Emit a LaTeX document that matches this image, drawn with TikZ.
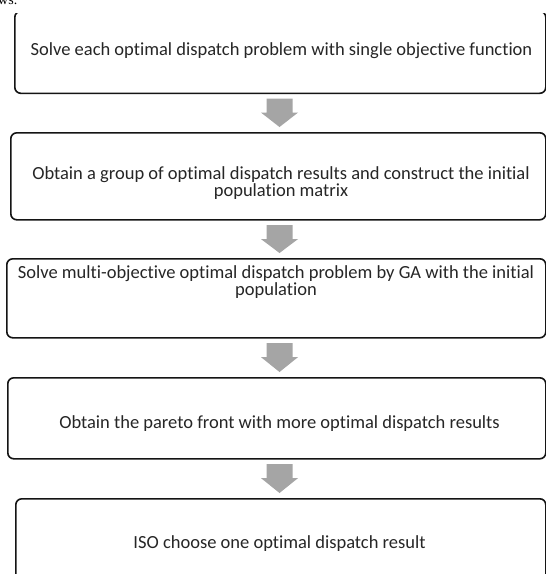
\documentclass[tikz,border=0pt]{standalone}
\usepackage{fontspec}
\setmainfont{Carlito}[Ligatures=NoCommon]
\newfontfamily\serifpart{Liberation Serif}
\usetikzlibrary{calc}
\definecolor{arrowgray}{HTML}{A5A5A5}
\definecolor{txtcol}{HTML}{262626}
\definecolor{boxline}{HTML}{141414}
\newcommand\blockarr[2]{%
  \fill[arrowgray] ($(#1.south -| ax)+(-13,4.5)$) -- ++(26,0) -- ++(0,14) -- ++(5.5,0)
    -- ($(#2.north -| ax)+(0,-5)$) -- ($(#1.south -| ax)+(-18.5,18.5)$) -- ++(5.5,0) -- cycle;}
\begin{document}
\begin{tikzpicture}[x=1pt,y=-1pt,
  box/.style={draw=boxline, line width=1.6pt, rounded corners=6pt, inner sep=0pt, anchor=north west},
  txt/.style={text=txtcol, font=\fontsize{18.5}{16}\selectfont, align=center, inner sep=0pt}]
\useasboundingbox (0,0) rectangle (546,574);
\clip (0,0) rectangle (546,574);
\fill[white] (0,0) rectangle (546,574);
\coordinate (ax) at (279.5,0);
% partial text of the page above
\node[anchor=base west, font=\serifpart\fontsize{14}{14}\selectfont, inner sep=0pt] (ws) at (-2,4.5) {ws.};
% boxes
\begin{scope}
  \clip (0,13) rectangle (546,120);
  \node[box, minimum width=531pt, minimum height=82pt] (b1) at (14,10.5) {};
\end{scope}
\node[box, minimum width=535pt, minimum height=87pt] (b2) at (10,132) {};
\node[box, minimum width=539pt, minimum height=79pt] (b3) at (6,258) {};
\node[box, minimum width=538pt, minimum height=81pt] (b4) at (7,377) {};
\node[box, minimum width=530pt, minimum height=110pt] (b5) at (15,498) {};
% texts
\node[txt] (t1) at (281.5,50.5) {Solve each optimal dispatch problem with single objective function};
\node[txt] (t2) at (281,183.5) {Obtain a group of optimal dispatch results and construct the initial\\population matrix};
\node[txt] (t3) at (276,282.5) {Solve multi-objective optimal dispatch problem by GA with the initial\\population};
\node[txt] (t4) at (279.5,424) {Obtain the pareto front with more optimal dispatch results};
\node[txt] (t5) at (279.5,544) {ISO choose one optimal dispatch result};
% arrows
\blockarr{b1}{b2}
\blockarr{b2}{b3}
\blockarr{b3}{b4}
\blockarr{b4}{b5}
\end{tikzpicture}
\end{document}
